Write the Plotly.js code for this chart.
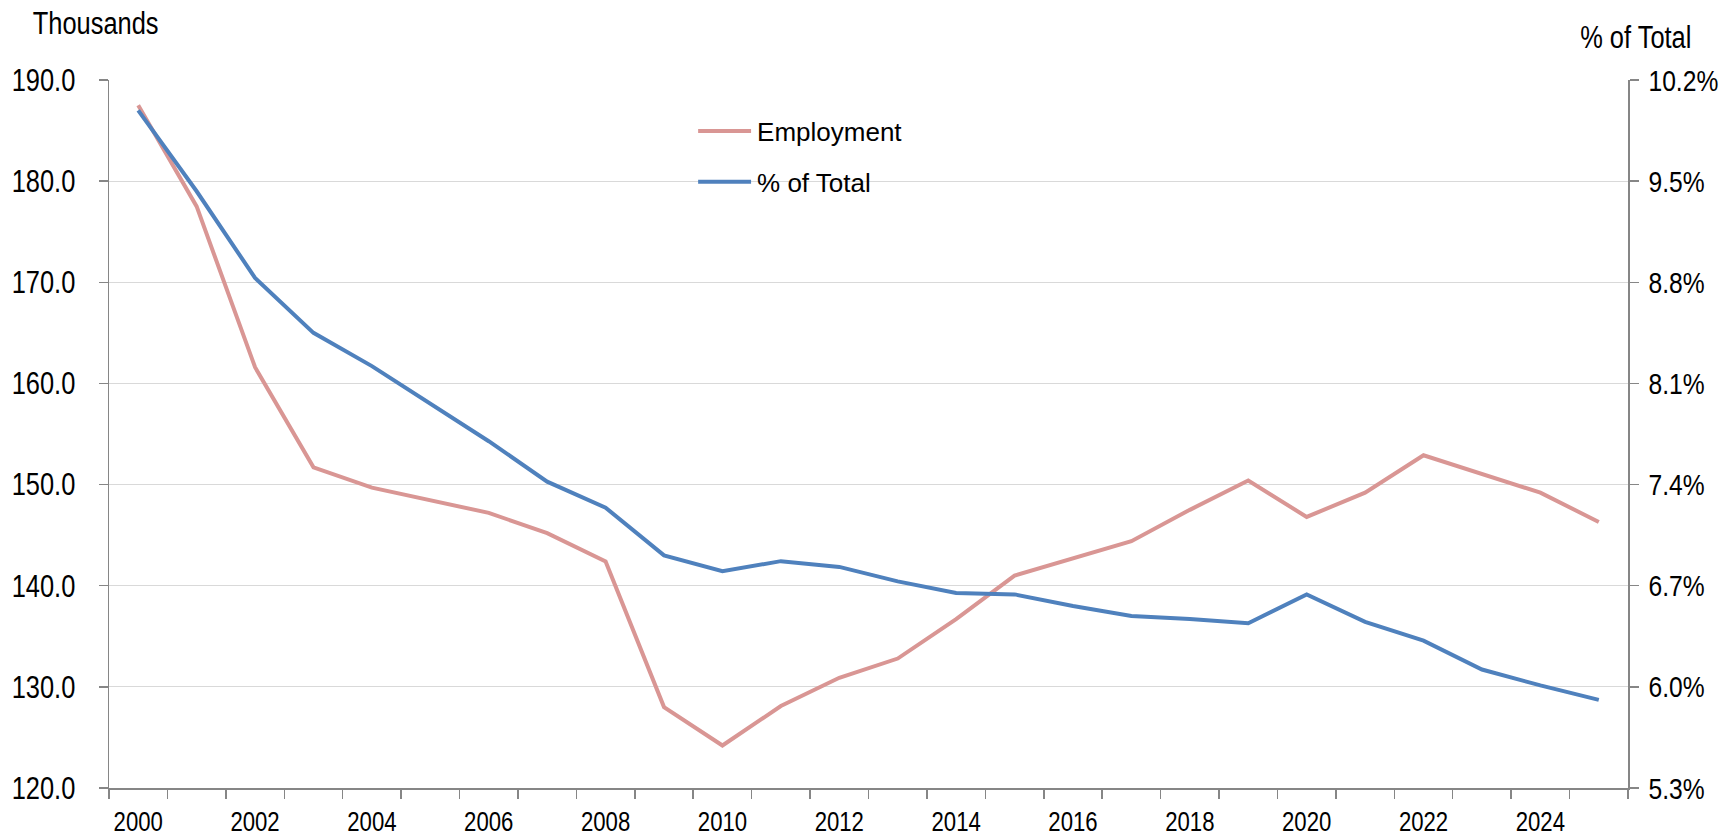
<!DOCTYPE html>
<html>
<head>
<meta charset="utf-8">
<script src="https://cdn.plot.ly/plotly-3.0.1.min.js"></script>
<style>html,body{margin:0;padding:0;background:#fff;}#chart{width:1734px;height:838px;}</style>
</head>
<body>
<div id="chart"></div>
<script>
const years = [2000,2001,2002,2003,2004,2005,2006,2007,2008,2009,2010,2011,2012,2013,2014,2015,2016,2017,2018,2019,2020,2021,2022,2023,2024,2025];
const employment = [187.5,177.5,161.6,151.7,149.7,148.4,147.2,145.2,142.4,128.0,124.2,128.1,130.9,132.8,136.7,141.0,142.7,144.4,147.5,150.4,146.8,149.2,152.9,151.0,149.2,146.3];
const pctOfTotal = [9.99,9.43,8.83,8.45,8.22,7.96,7.70,7.42,7.24,6.91,6.80,6.87,6.83,6.73,6.65,6.64,6.56,6.49,6.47,6.44,6.64,6.45,6.32,6.12,6.01,5.91];
const xTickYears = [2000,2002,2004,2006,2008,2010,2012,2014,2016,2018,2020,2022,2024];
const leftTicks = [120,130,140,150,160,170,180,190];
const rightTicks = [5.3,6.0,6.7,7.4,8.1,8.8,9.5,10.2];

const font = '"Liberation Sans", Arial, sans-serif';
const axisGray = '#868686';

const traces = [
  {x: years, y: employment, name: 'Employment', type: 'scatter', mode: 'lines',
   line: {color: '#D99694', width: 4}, yaxis: 'y', legendgroup: 'a'},
  {x: years, y: pctOfTotal, name: '% of Total', type: 'scatter', mode: 'lines',
   line: {color: '#4F81BD', width: 4}, yaxis: 'y2', legendgroup: 'b'}
];

const layout = {
  width: 1734, height: 838,
  margin: {l: 109, r: 106, t: 80, b: 50},
  paper_bgcolor: '#fff', plot_bgcolor: '#fff',
  showlegend: true,
  legend: {x: 0.3878, y: 0.961, xanchor: 'left', yanchor: 'top', bgcolor: 'rgba(0,0,0,0)',
           itemwidth: 49,
           font: {family: font, size: 26, color: '#000'}, tracegroupgap: 14, traceorder: 'grouped'},
  xaxis: {
    range: [1999.5, 2025.5], tickvals: xTickYears, ticktext: xTickYears.map(String),
    ticks: '', showgrid: false, zeroline: false,
    showline: true, linecolor: axisGray, linewidth: 1.5,
    tickfont: {family: font, size: 27, color: '#000'}, ticklabelstandoff: 9,
    minor: {tick0: 1999.5, dtick: 1, ticks: 'outside', ticklen: 9, tickcolor: axisGray, tickwidth: 1.5, showgrid: false}
  },
  yaxis: {
    range: [120, 190], tickvals: leftTicks, ticktext: leftTicks.map(v => v.toFixed(1)),
    ticks: 'outside', ticklen: 9, tickcolor: axisGray, tickwidth: 1.5,
    showline: true, linecolor: axisGray, linewidth: 1.5,
    showgrid: true, gridcolor: '#d9d9d9', gridwidth: 1.2, zeroline: false,
    tickfont: {family: font, size: 31, color: '#000'}, ticklabelstandoff: 17
  },
  yaxis2: {
    overlaying: 'y', side: 'right', range: [5.3, 10.2],
    tickvals: rightTicks, ticktext: rightTicks.map(v => v.toFixed(1) + '%'),
    ticks: 'outside', ticklen: 9, tickcolor: axisGray, tickwidth: 1.5,
    showline: true, linecolor: axisGray, linewidth: 1.5,
    showgrid: false, zeroline: false,
    tickfont: {family: font, size: 30, color: '#000'}, ticklabelstandoff: 4
  },
  annotations: [
    {text: 'Thousands', xref: 'paper', yref: 'paper', x: -0.0089, y: 1.0805, xanchor: 'center', yanchor: 'middle',
     showarrow: false, font: {family: font, size: 31, color: '#000'}},
    {text: '% of Total', xref: 'paper', yref: 'paper', x: 1.0053, y: 1.060, xanchor: 'center', yanchor: 'middle',
     showarrow: false, font: {family: font, size: 31, color: '#000'}}
  ]
};

const gd = document.getElementById('chart');
Plotly.newPlot(gd, traces, layout, {displayModeBar: false, staticPlot: true}).then(() => {
  // Narrow (condensed) look for axis and title text, as in the reference
  gd.querySelectorAll('.xtick text, .ytick text, .y2tick text, .annotation-text').forEach(t => {
    const len = t.getComputedTextLength();
    t.setAttribute('textLength', (len * 0.82).toFixed(2));
    t.setAttribute('lengthAdjust', 'spacingAndGlyphs');
  });
  // Longer legend line samples
  gd.querySelectorAll('.legend .legendlines path').forEach(p => {
    p.setAttribute('d', 'M0,0h53');
  });
});
</script>
</body>
</html>
